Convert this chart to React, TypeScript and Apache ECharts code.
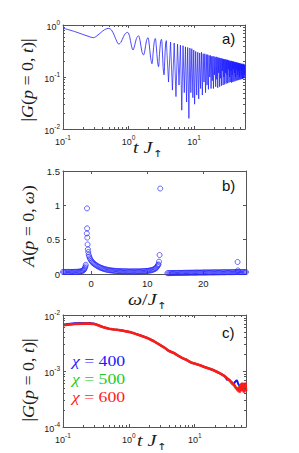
import React, { useEffect, useRef } from "react";
import * as echarts from "echarts";

const AXIS_COLOR = "#555555";
const LABEL_COLOR = "#1a1a1a";
const BLUE = "#1a1aff";
const GREEN = "#22cc22";
const RED = "#ff1a1a";
const SANS = "'Liberation Sans', Arial, sans-serif";
const SERIF = "'Liberation Serif', 'DejaVu Serif', serif";

// ---------- Panel a: |G(p=0,t)| vs tJ (log-log) ----------
const aEarly: [number, number][] = [
  [0.1, 0.87], [0.15, 0.75], [0.2, 0.66], [0.25, 0.6], [0.29, 0.57], [0.33, 0.62],
  [0.38, 0.72], [0.43, 0.81], [0.49, 0.86], [0.55, 0.8], [0.61, 0.62], [0.66, 0.49],
  [0.71, 0.43], [0.77, 0.47], [0.84, 0.6], [0.9, 0.69], [0.97, 0.72], [1.04, 0.6],
  [1.1, 0.42], [1.17, 0.33], [1.24, 0.4], [1.32, 0.55], [1.42, 0.62], [1.5, 0.5],
  [1.6, 0.31], [1.69, 0.265], [1.78, 0.33], [1.88, 0.5], [1.98, 0.57], [2.06, 0.45],
  [2.17, 0.24], [2.28, 0.18], [2.37, 0.28], [2.47, 0.48], [2.56, 0.55], [2.65, 0.4],
  [2.77, 0.2], [2.87, 0.158], [2.97, 0.27], [3.08, 0.47], [3.18, 0.53], [3.28, 0.34],
  [3.38, 0.15], [3.48, 0.11], [3.58, 0.22], [3.68, 0.43], [3.78, 0.5],
];
const aMid: [number, number][] = [
  [3.78, 0.5], [4.08, 0.08], [4.38, 0.47], [4.68, 0.056], [4.98, 0.45], [5.3, 0.042],
  [5.6, 0.43], [5.9, 0.07], [6.2, 0.41], [6.5, 0.023], [6.8, 0.4], [7.1, 0.05],
  [7.4, 0.38], [7.7, 0.033], [8.0, 0.37], [8.35, 0.016], [8.65, 0.36], [8.95, 0.05],
  [9.25, 0.35], [9.6, 0.04], [9.9, 0.33], [10.2, 0.03], [10.6, 0.31],
];
const aTail: [number, number][] = [
  [10.6, 0.31], [11.0, 0.045], [11.4, 0.3], [11.8, 0.038], [12.2, 0.29], [12.6, 0.06],
  [13.0, 0.3], [13.4, 0.045], [13.8, 0.28], [14.2, 0.08], [14.6, 0.28], [15.0, 0.05],
  [15.4, 0.27], [15.8, 0.07], [16.2, 0.27], [16.6, 0.058], [17.0, 0.26], [17.4, 0.1],
  [17.8, 0.26], [18.2, 0.06], [18.6, 0.25], [19.0, 0.085], [19.4, 0.25], [19.8, 0.06],
  [20.2, 0.25], [20.6, 0.11], [21.0, 0.24], [21.4, 0.065], [21.8, 0.245], [22.2, 0.09],
  [22.6, 0.24], [23.0, 0.062], [23.4, 0.235], [23.8, 0.12], [24.2, 0.235], [24.6, 0.065],
  [25.0, 0.23], [25.4, 0.095], [25.8, 0.23], [26.2, 0.068], [26.6, 0.225], [27.0, 0.13],
  [27.4, 0.225], [27.8, 0.07], [28.2, 0.22], [28.6, 0.1], [29.0, 0.22], [29.4, 0.072],
  [29.8, 0.215], [30.2, 0.12], [30.6, 0.22], [31.0, 0.075], [31.4, 0.21], [31.8, 0.11],
  [32.2, 0.215], [32.6, 0.076], [33.0, 0.21], [33.4, 0.14], [33.8, 0.21], [34.2, 0.078],
  [34.6, 0.205], [35.0, 0.1], [35.4, 0.205], [35.8, 0.08], [36.2, 0.2], [36.6, 0.13],
  [37.0, 0.205], [37.4, 0.078], [37.8, 0.2], [38.2, 0.11], [38.6, 0.2], [39.0, 0.08],
  [39.4, 0.195], [39.8, 0.14], [40.2, 0.2], [40.6, 0.082], [41.0, 0.195], [41.4, 0.12],
  [41.8, 0.19], [42.2, 0.083], [42.6, 0.195], [43.0, 0.1], [43.4, 0.19], [43.8, 0.085],
  [44.2, 0.19], [44.6, 0.14], [45.0, 0.19], [45.4, 0.086], [45.8, 0.185], [46.2, 0.11],
  [46.6, 0.19], [47.0, 0.087], [47.4, 0.185], [47.8, 0.13], [48.2, 0.185], [48.6, 0.088],
  [49.0, 0.18], [49.4, 0.1], [49.8, 0.185], [50.2, 0.09], [50.6, 0.18], [51.0, 0.14],
  [51.4, 0.18], [51.8, 0.09], [52.2, 0.18], [52.6, 0.11], [53.0, 0.175], [53.4, 0.092],
  [53.8, 0.18], [54.2, 0.13], [54.6, 0.175], [55.0, 0.092], [55.4, 0.175], [55.8, 0.1],
  [56.2, 0.18], [56.6, 0.094], [57.0, 0.175], [57.4, 0.14], [57.8, 0.17], [58.2, 0.095],
  [58.6, 0.175], [59.0, 0.11], [59.4, 0.17], [59.8, 0.096],
];

// ---------- Panel b: A(p=0,omega) vs omega/J (scatter) ----------
const bFirstBand: [number, number][] = [
  [-5.0, 0.03], [-4.8, 0.03], [-4.6, 0.03], [-4.4, 0.03], [-4.2, 0.03], [-4.0, 0.03],
  [-3.8, 0.03], [-3.6, 0.03], [-3.4, 0.03], [-3.2, 0.03], [-3.0, 0.031], [-2.8, 0.031],
  [-2.6, 0.032], [-2.4, 0.033], [-2.2, 0.034], [-2.0, 0.036], [-1.8, 0.039], [-1.6, 0.044],
  [-1.45, 0.05], [-1.3, 0.06], [-1.2, 0.072], [-1.1, 0.09], [-1.0, 0.11], [-0.94, 0.135],
  [-0.72, 0.956], [-0.71, 0.665], [-0.75, 0.59], [-0.68, 0.53], [-0.62, 0.43], [-0.56, 0.36],
  [-0.5, 0.32], [-0.42, 0.28], [-0.33, 0.255], [-0.22, 0.23], [-0.1, 0.21], [0.05, 0.19],
  [0.2, 0.175], [0.38, 0.16], [0.56, 0.148], [0.75, 0.136], [0.95, 0.125], [1.15, 0.115],
  [1.35, 0.106], [1.55, 0.098], [1.75, 0.09], [1.95, 0.084], [2.15, 0.078], [2.35, 0.073],
  [2.55, 0.068], [2.75, 0.064], [2.95, 0.06], [3.15, 0.057], [3.35, 0.054], [3.55, 0.052],
  [3.75, 0.05], [3.95, 0.048], [4.15, 0.046], [4.35, 0.045], [4.55, 0.044], [4.75, 0.043],
  [4.95, 0.042], [5.15, 0.041], [5.35, 0.04], [5.55, 0.04], [5.75, 0.039], [5.95, 0.039],
  [6.15, 0.038], [6.35, 0.038], [6.55, 0.038], [6.75, 0.037], [6.95, 0.037], [7.15, 0.037],
  [7.35, 0.037], [7.55, 0.037], [7.75, 0.037], [7.95, 0.037], [8.15, 0.037], [8.35, 0.038],
  [8.55, 0.038], [8.75, 0.038], [8.95, 0.039], [9.15, 0.04], [9.35, 0.041], [9.55, 0.042],
  [9.75, 0.043], [9.95, 0.045], [10.15, 0.047], [10.35, 0.049], [10.55, 0.052], [10.75, 0.056],
  [10.95, 0.06], [11.15, 0.066], [11.35, 0.074], [11.5, 0.083], [11.65, 0.095], [11.8, 0.11],
  [11.92, 0.13], [12.02, 0.14], [12.1, 0.18], [12.2, 0.277], [12.32, 1.245],
];
const bSecondBand: [number, number][] = [
  [13.6, 0.012], [13.8, 0.012], [14.0, 0.013], [14.2, 0.013], [14.4, 0.014], [14.6, 0.014],
  [14.8, 0.014], [15.0, 0.015], [15.2, 0.015], [15.4, 0.015], [15.6, 0.016], [15.8, 0.016],
  [16.0, 0.016], [16.2, 0.017], [16.4, 0.017], [16.6, 0.017], [16.8, 0.018], [17.0, 0.018],
  [17.2, 0.018], [17.4, 0.018], [17.6, 0.019], [17.8, 0.019], [18.0, 0.019], [18.2, 0.019],
  [18.4, 0.02], [18.6, 0.02], [18.8, 0.02], [19.0, 0.02], [19.2, 0.021], [19.4, 0.021],
  [19.6, 0.021], [19.8, 0.021], [20.0, 0.022], [20.2, 0.022], [20.4, 0.022], [20.6, 0.022],
  [20.8, 0.022], [21.0, 0.023], [21.2, 0.023], [21.4, 0.023], [21.6, 0.023], [21.8, 0.023],
  [22.0, 0.024], [22.2, 0.024], [22.4, 0.024], [22.6, 0.024], [22.8, 0.024], [23.0, 0.025],
  [23.2, 0.025], [23.4, 0.025], [23.6, 0.025], [23.8, 0.025], [24.0, 0.026], [24.2, 0.026],
  [24.4, 0.026], [24.6, 0.026], [24.8, 0.026], [25.0, 0.027], [25.2, 0.027], [25.4, 0.027],
  [25.6, 0.027], [25.8, 0.028], [26.0, 0.03], [26.1, 0.175], [26.15, 0.052], [26.2, 0.03],
  [26.4, 0.028], [26.6, 0.028], [26.8, 0.028], [27.0, 0.028], [27.2, 0.028], [27.4, 0.028],
  [27.6, 0.028],
];

// ---------- Panel c: |G(p=0,t)| for three chi ----------
const cCommon: [number, number][] = [
  [0.1, 0.0066], [0.12, 0.0067], [0.15, 0.0069], [0.2, 0.007], [0.25, 0.007], [0.3, 0.0069],
  [0.35, 0.0065], [0.4, 0.0061], [0.5, 0.0057], [0.6, 0.0055], [0.7, 0.0054], [0.85, 0.0052],
  [1.0, 0.005], [1.2, 0.0047], [1.5, 0.0043], [1.9, 0.0039], [2.4, 0.0034], [3.0, 0.0029],
  [3.5, 0.0026], [4.0, 0.0023], [4.8, 0.0021], [5.5, 0.0019], [6.5, 0.0017], [7.6, 0.00157],
  [9.0, 0.0014], [10.5, 0.00133], [12.0, 0.00127], [14.0, 0.00118], [16.0, 0.00112],
  [19.0, 0.00104], [22.0, 0.00096], [25.0, 0.00089],
];
const cBlueHead: [number, number][] = [
  [0.1, 0.0067], [0.12, 0.0069], [0.15, 0.0071], [0.2, 0.0072], [0.25, 0.0072], [0.3, 0.007],
];
const cBlueTail: [number, number][] = [
  [28, 0.00082], [30, 0.00074], [31, 0.00069], [32, 0.00072], [33, 0.0007], [35, 0.00064],
  [37, 0.00059], [39, 0.00058], [41, 0.00064], [43, 0.00068], [44, 0.00067], [46, 0.00058],
  [48, 0.00054], [50, 0.00053],
];
const cGreenTail: [number, number][] = [
  [28, 0.00082], [31, 0.00074], [34, 0.00066], [37, 0.00059], [40, 0.00053], [42, 0.00049],
  [44, 0.00048], [46, 0.0005], [48, 0.00053], [50, 0.00051], [52, 0.00054],
];
const cRedTail: [number, number][] = [
  [28, 0.00082], [31, 0.00074], [34, 0.00068], [37, 0.00062], [40, 0.00056], [42, 0.00051],
  [44, 0.00047], [46, 0.00044], [47, 0.00052], [48, 0.00041], [49, 0.00055], [50, 0.00043],
  [51, 0.0006], [52, 0.00043], [53, 0.00062], [54, 0.00045], [55, 0.00058], [56, 0.00041],
  [57, 0.0006], [58, 0.00043], [59, 0.00062], [60, 0.00044],
];

const chiValues = ["400", "500", "600"];
const chiColors = [BLUE, GREEN, RED];
const panelLabels = ["a)", "b)", "c)"];

// axis ranges and ticks
const tRange = [0.1, 60];
const aGRange = [0.01, 1];
const cGRange = [0.0001, 0.01];
const bOmegaRange = [-5, 27.6];
const bARange = [0, 1.5];
const bOmegaTicks = [0, 10, 20];
const tMinor = [0.2, 0.3, 0.4, 0.5, 0.6, 0.7, 0.8, 0.9, 2, 3, 4, 5, 6, 7, 8, 9, 20, 30, 40, 50];
const aGMinor = [0.02, 0.03, 0.04, 0.05, 0.06, 0.07, 0.08, 0.09, 0.2, 0.3, 0.4, 0.5, 0.6, 0.7, 0.8, 0.9];
const cGMinor = [0.0002, 0.0003, 0.0004, 0.0005, 0.0006, 0.0007, 0.0008, 0.0009, 0.002, 0.003, 0.004, 0.005, 0.006, 0.007, 0.008, 0.009];

function logLabel(v: number) {
  const l = Math.log10(v);
  const e = Math.round(l);
  if (Math.abs(l - e) > 1e-6) return "";
  return `{b|10}{s|${e}}`;
}
const tickRich = {
  b: { fontFamily: SANS, fontSize: 9, color: LABEL_COLOR, lineHeight: 12, verticalAlign: "bottom" },
  s: { fontFamily: SANS, fontSize: 6.5, color: LABEL_COLOR, lineHeight: 12, verticalAlign: "top" },
};

const axisLine = { show: true, onZero: false, lineStyle: { color: AXIS_COLOR, width: 1 } };
const axisTick = { show: true, inside: true, length: 3, lineStyle: { color: AXIS_COLOR, width: 1 } };

function logXAxis(gridIndex: number, pos: "bottom" | "top") {
  return {
    type: "log", logBase: 10, gridIndex, position: pos, min: tRange[0], max: tRange[1],
    axisLine, axisTick,
    axisLabel: { show: pos === "bottom", formatter: logLabel, rich: tickRich, margin: 5, showMaxLabel: false },
    splitLine: { show: false },
  };
}
function logYAxis(gridIndex: number, pos: "left" | "right", range: number[]) {
  return {
    type: "log", logBase: 10, gridIndex, position: pos, min: range[0], max: range[1],
    axisLine, axisTick,
    axisLabel: { show: pos === "left", formatter: logLabel, rich: tickRich, margin: 3 },
    splitLine: { show: false },
  };
}

function minorXSeries(xi: number, yi: number, values: number[], yRef: number) {
  return {
    type: "custom", xAxisIndex: xi, yAxisIndex: yi, silent: true, clip: false, z: 5,
    data: values.map((v) => [v, yRef]),
    renderItem: (params: any, api: any) => {
      const cs = params.coordSys;
      const p = api.coord([api.value(0), api.value(1)]);
      const x = Math.round(p[0]) + 0.5;
      const top = cs.y;
      const bot = cs.y + cs.height;
      const st = { stroke: AXIS_COLOR, lineWidth: 1 };
      return {
        type: "group",
        children: [
          { type: "line", shape: { x1: x, y1: bot, x2: x, y2: bot - 2 }, style: st },
          { type: "line", shape: { x1: x, y1: top, x2: x, y2: top + 2 }, style: st },
        ],
      };
    },
  };
}
function minorYSeries(xi: number, yi: number, values: number[], xRef: number) {
  return {
    type: "custom", xAxisIndex: xi, yAxisIndex: yi, silent: true, clip: false, z: 5,
    data: values.map((v) => [xRef, v]),
    renderItem: (params: any, api: any) => {
      const cs = params.coordSys;
      const p = api.coord([api.value(0), api.value(1)]);
      const y = Math.round(p[1]) + 0.5;
      const l = cs.x;
      const r = cs.x + cs.width;
      const st = { stroke: AXIS_COLOR, lineWidth: 1 };
      return {
        type: "group",
        children: [
          { type: "line", shape: { x1: l, y1: y, x2: l + 2, y2: y }, style: st },
          { type: "line", shape: { x1: r, y1: y, x2: r - 2, y2: y }, style: st },
        ],
      };
    },
  };
}

const mathRich = (size: number, color = LABEL_COLOR) => ({
  i: { fontFamily: SERIF, fontStyle: "italic", fontSize: size, fill: color, color },
  n: { fontFamily: SERIF, fontSize: size, fill: color, color },
  sub: { fontFamily: "'DejaVu Sans', sans-serif", fontSize: size * 0.6, fill: color, color, verticalAlign: "bottom", lineHeight: size * 1.3 },
});

export default function App() {
  const ref = useRef<HTMLDivElement>(null);
  useEffect(() => {
    if (!ref.current) return;
    const chart = echarts.init(ref.current, undefined, { renderer: "svg", width: 299, height: 453 });

    const yTitles = [
      { text: "{n||}{i|G}{n|(}{i|p}{n| = 0, }{i|t}{n|)}{n||}", x: 28, y: 80 },
      { text: "{i|A}{n|(}{i|p}{n| = 0, }{i|ω}{n|)}", x: 29, y: 226 },
      { text: "{n||}{i|G}{n|(}{i|p}{n| = 0, }{i|t}{n|)}{n||}", x: 29, y: 380 },
    ];
    const xTitles = [
      { text: "{i|t }{i|J}{sub|↑}", x: 133, y: 148 },
      { text: "{i|ω}{n|/}{i|J}{sub|↑}", x: 128, y: 300 },
      { text: "{i|t }{i|J}{sub|↑}", x: 137, y: 441 },
    ];
    const panelPos = [
      { x: 222, y: 31 },
      { x: 222, y: 178 },
      { x: 222, y: 325 },
    ];
    const legendY = [361, 379, 397];

    const graphic: any[] = [];
    yTitles.forEach((t) =>
      graphic.push({
        type: "text", x: t.x, y: t.y, rotation: Math.PI / 2, scaleX: 1.12,
        style: { text: t.text, align: "center", verticalAlign: "middle", rich: mathRich(16) },
      })
    );
    xTitles.forEach((t) =>
      graphic.push({
        type: "text", x: t.x, y: t.y, scaleX: 1.25,
        style: { text: t.text, align: "left", verticalAlign: "middle", rich: mathRich(16) },
      })
    );
    panelLabels.forEach((p, i) =>
      graphic.push({
        type: "text", x: panelPos[i].x, y: panelPos[i].y,
        style: { text: p, font: `15px ${SANS}`, fill: "#111", align: "left", verticalAlign: "top" },
      })
    );
    chiValues.forEach((c, i) =>
      graphic.push({
        type: "text", x: 72, y: legendY[i], scaleX: 1.18,
        style: { text: `{i|χ}{n| = ${c}}`, align: "left", verticalAlign: "middle", rich: mathRich(15, chiColors[i]) },
      })
    );

    const option: any = {
      animation: false,
      backgroundColor: "#ffffff",
      grid: [
        { left: 63, top: 25, width: 182, height: 104 },
        { left: 63, top: 171, width: 183, height: 103 },
        { left: 63, top: 315, width: 183, height: 112 },
      ],
      xAxis: [
        logXAxis(0, "bottom"),
        logXAxis(0, "top"),
        {
          type: "value", gridIndex: 1, position: "bottom", min: bOmegaRange[0], max: bOmegaRange[1],
          axisLine, axisTick: { ...axisTick, customValues: bOmegaTicks },
          axisLabel: { customValues: bOmegaTicks, fontFamily: SANS, fontSize: 9.5, color: LABEL_COLOR, margin: 4 },
          splitLine: { show: false },
        },
        {
          type: "value", gridIndex: 1, position: "top", min: bOmegaRange[0], max: bOmegaRange[1],
          axisLine, axisTick: { ...axisTick, customValues: bOmegaTicks },
          axisLabel: { show: false, customValues: bOmegaTicks },
          splitLine: { show: false },
        },
        logXAxis(2, "bottom"),
        logXAxis(2, "top"),
      ],
      yAxis: [
        logYAxis(0, "left", aGRange),
        logYAxis(0, "right", aGRange),
        {
          type: "value", gridIndex: 1, position: "left", min: bARange[0], max: bARange[1], interval: 0.5,
          axisLine, axisTick,
          axisLabel: { fontFamily: SANS, fontSize: 9.5, color: LABEL_COLOR, margin: 3 },
          splitLine: { show: false },
        },
        {
          type: "value", gridIndex: 1, position: "right", min: bARange[0], max: bARange[1], interval: 0.5,
          axisLine, axisTick, axisLabel: { show: false }, splitLine: { show: false },
        },
        logYAxis(2, "left", cGRange),
        logYAxis(2, "right", cGRange),
      ],
      series: [
        {
          type: "line", xAxisIndex: 0, yAxisIndex: 0, data: aEarly, smooth: 0.35, symbol: "none",
          lineStyle: { color: BLUE, width: 0.8 },
        },
        {
          type: "line", xAxisIndex: 0, yAxisIndex: 0, data: [...aMid, ...aTail.slice(1)], symbol: "none",
          lineStyle: { color: BLUE, width: 0.7 },
        },
        minorXSeries(0, 0, tMinor, 0.1),
        minorYSeries(0, 0, aGMinor, 1),
        {
          type: "scatter", xAxisIndex: 2, yAxisIndex: 2, data: [...bFirstBand, ...bSecondBand],
          symbol: "circle", symbolSize: 5,
          itemStyle: { color: "rgba(0,0,0,0)", borderColor: "#2a2aff", borderWidth: 0.9 },
        },
        {
          type: "line", xAxisIndex: 4, yAxisIndex: 4, symbol: "none",
          data: [...cBlueHead, ...cCommon.slice(7), ...cBlueTail],
          lineStyle: { color: "#1010ff", width: 2 },
        },
        {
          type: "line", xAxisIndex: 4, yAxisIndex: 4, symbol: "none",
          data: [...cCommon, ...cGreenTail],
          lineStyle: { color: GREEN, width: 2 },
        },
        {
          type: "line", xAxisIndex: 4, yAxisIndex: 4, symbol: "none",
          data: [...cCommon, ...cRedTail],
          lineStyle: { color: RED, width: 2.6 },
        },
        minorXSeries(4, 4, tMinor, 0.001),
        minorYSeries(4, 4, cGMinor, 1),
      ],
      graphic,
    };
    chart.setOption(option);
    return () => chart.dispose();
  }, []);
  return (
    <div
      ref={ref}
      style={{ position: "fixed", left: 0, top: 0, width: 299, height: 453, background: "#fff" }}
    />
  );
}
